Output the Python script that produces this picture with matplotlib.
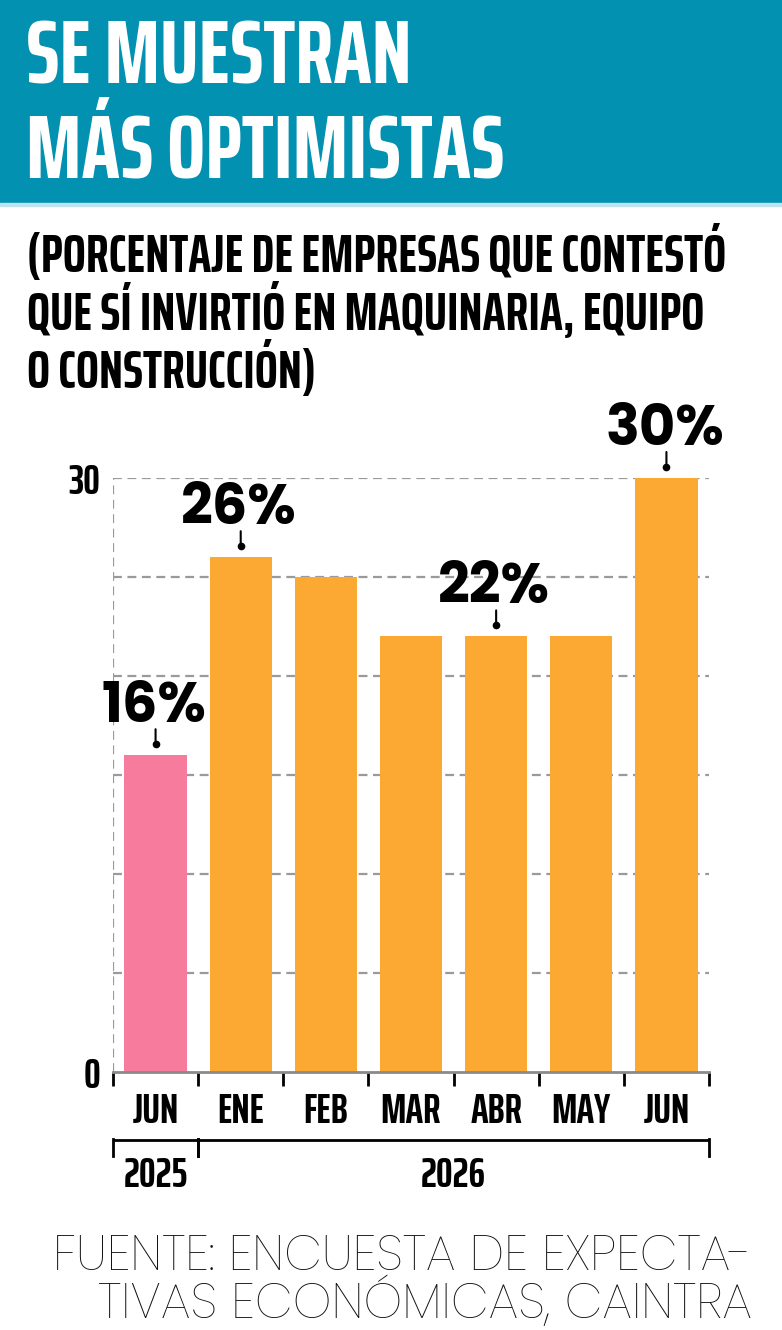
import matplotlib
matplotlib.use("Agg")
import matplotlib.pyplot as plt
import matplotlib.transforms as mtransforms
from matplotlib.textpath import TextPath
from matplotlib.font_manager import FontProperties

# datos
months = ["JUN", "ENE", "FEB", "MAR", "ABR", "MAY", "JUN"]
values = [16, 26, 25, 22, 22, 22, 30]
labeled = {0: "16%", 1: "26%", 4: "22%", 6: "30%"}
years = [("2025", 0, 0), ("2026", 1, 6)]
yticks = [0, 30]
title = ["SE MUESTRAN", "MÁS OPTIMISTAS"]
subtitle = ["(PORCENTAJE DE EMPRESAS QUE CONTESTÓ",
            "QUE SÍ INVIRTIÓ EN MAQUINARIA, EQUIPO",
            "O CONSTRUCCIÓN)"]
source = ["FUENTE: ENCUESTA DE EXPECTA-", "TIVAS ECONÓMICAS, CAINTRA"]

W, H = 782, 1330
fig = plt.figure(figsize=(W / 100, H / 100), dpi=100)

cond = dict(family="Saira ExtraCondensed", weight="bold")
num = dict(family="Poppins", weight=700)
light = dict(family="Poppins", weight=200)


def fx(x):
    return x / W


def fy(y):
    return 1 - y / H


def fit(text, width_px, **kw):
    # font size (pt) that makes text about width_px wide
    fp = FontProperties(**kw)
    w = TextPath((0, 0), text, size=100, prop=fp).get_extents().width
    return 100 * width_px / w * 0.72


# header band
fig.patches.append(plt.Rectangle((0, fy(203)), 1, 203 / H, transform=fig.transFigure,
                                 color="#0291b1", zorder=0))
fig.patches.append(plt.Rectangle((0, fy(206)), 1, 3 / H, transform=fig.transFigure,
                                 color="#bfe3ec", zorder=0))
ts = fit(title[0], 380, **cond)
fig.text(fx(26), fy(83), title[0], color="white", fontsize=ts, va="baseline", **cond)
fig.text(fx(26), fy(178), title[1], color="white", fontsize=ts, va="baseline", **cond)

ss = fit(subtitle[0], 694, **cond)
for i, line in enumerate(subtitle):
    fig.text(fx(27), fy(272 + i * 58), line, color="black", fontsize=ss, va="baseline", **cond)

ax = fig.add_axes([fx(113), fy(1072), (709 - 113) / W, (1072 - 478) / H])
x = range(len(values))
colors = ["#f77b9c"] + ["#fca933"] * (len(values) - 1)
ax.bar(x, values, width=0.73, color=colors, zorder=2)
ax.set_xlim(-0.5, len(values) - 0.5)
ax.set_ylim(0, 30)

for yv in range(5, 31, 5):
    ax.axhline(yv, color="#9a9a9a", lw=1.6, ls=(0, (4, 2.5)), zorder=1)
ax.axvline(-0.5, color="#9a9a9a", lw=1.6, ls=(0, (4, 2.5)), zorder=1)
for s in ["top", "right", "left"]:
    ax.spines[s].set_visible(False)
ax.spines["bottom"].set_color("#8a8a8a")
ax.spines["bottom"].set_linewidth(2)
ax.spines["bottom"].set_zorder(3)

ms = fit("2025", 62, **cond)
ax.set_yticks(yticks)
ax.set_yticklabels([str(v) for v in yticks], fontsize=ms, **cond)
ax.tick_params(axis="y", length=0, pad=9)

ax.set_xticks([i - 0.5 for i in range(len(values) + 1)])
ax.set_xticklabels([])
ax.tick_params(axis="x", which="major", length=10, width=2, color="black")
ax.set_xticks(list(x), minor=True)
ax.set_xticklabels(months, minor=True, fontsize=ms, **cond)
ax.tick_params(axis="x", which="minor", length=0, pad=14)

# value labels with leader line and dot
ls_ = fit("26%", 112, **num)
for i, txt in labeled.items():
    v = values[i]
    dot = mtransforms.offset_copy(ax.transData, fig=fig, x=0, y=11, units="dots")
    ax.plot([i], [v], marker="o", ms=4.5, color="black", transform=dot, clip_on=False, zorder=4)
    ax.annotate("", xy=(i, v), xytext=(0, 26), textcoords="offset pixels",
                arrowprops=dict(arrowstyle="-", color="black", lw=1.5, shrinkA=0, shrinkB=11 * 0.72),
                annotation_clip=False)
    lab = mtransforms.offset_copy(ax.transData, fig=fig, x=-2, y=33, units="dots")
    ax.text(i, v, txt, transform=lab, ha="center", va="baseline", fontsize=ls_,
            clip_on=False, zorder=5, **num)

# year brackets
blend = mtransforms.blended_transform_factory(ax.transData, ax.transAxes)


def yf(py):
    return (1072 - py) / (1072 - 478)


for label, a, b in years:
    ax.plot([a - 0.5, b + 0.5], [yf(1140), yf(1140)], color="black", lw=2, transform=blend,
            clip_on=False, solid_capstyle="butt")
    for xe in (a - 0.5, b + 0.5):
        ax.plot([xe, xe], [yf(1139), yf(1156)], color="black", lw=2, transform=blend, clip_on=False)
    ax.text((a + b) / 2, yf(1187), label, transform=blend, ha="center", va="baseline",
            fontsize=ms, clip_on=False, **cond)

fs = fit(source[0], 690, **light)
fig.text(fx(752), fy(1270), source[0], ha="right", va="baseline", fontsize=fs,
         color="#111111", **light)
fig.text(fx(752), fy(1318), source[1], ha="right", va="baseline", fontsize=fs,
         color="#111111", **light)

fig.savefig("out.png", dpi=100)
